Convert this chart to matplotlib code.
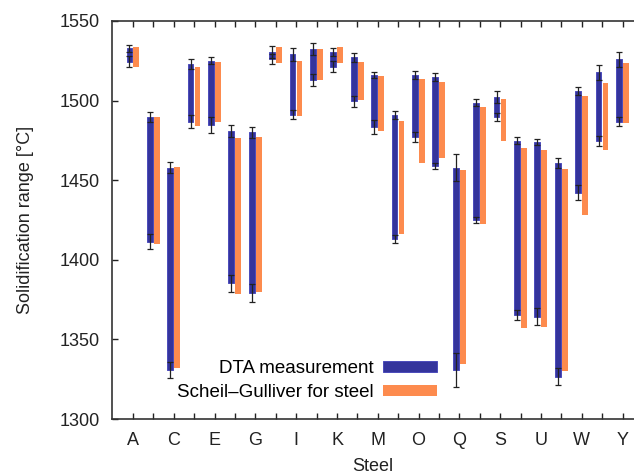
import numpy as np
import matplotlib
matplotlib.use('Agg')
import matplotlib.pyplot as plt

plt.rcParams['font.family'] = ['Liberation Sans', 'DejaVu Sans']
plt.rcParams['font.size'] = 13

steels = list('ABCDEFGHIJKLMNOPQRSTUVWXY')

# DTA measurement: upper/lower ends of the range and their errors
dta_top = [1532.8, 1489.9, 1457.9, 1522.8, 1525.0, 1480.9, 1480.0, 1530.7, 1529.0, 1532.2,
           1530.7, 1527.2, 1516.1, 1491.0, 1516.1, 1515.0, 1457.9, 1498.7, 1502.5, 1474.8,
           1474.2, 1461.0, 1506.0, 1517.8, 1525.9]
dta_top_err = [2.2, 3.1, 3.3, 3.2, 2.2, 3.6, 3.2, 3.8, 4.3, 3.8, 2.6, 2.9, 1.7, 2.5, 2.7,
               2.6, 8.3, 2.3, 3.7, 2.1, 1.9, 3.1, 2.7, 4.6, 4.8]
dta_bot = [1524.4, 1411.4, 1330.8, 1486.7, 1484.7, 1385.2, 1379.4, 1525.9, 1491.0, 1512.9,
           1521.3, 1499.7, 1483.2, 1412.9, 1477.3, 1458.9, 1330.8, 1425.0, 1489.9, 1365.3,
           1364.3, 1326.6, 1442.2, 1474.6, 1486.7]
dta_bot_err = [3.4, 4.8, 4.8, 4.1, 4.9, 5.2, 5.7, 3.1, 2.8, 3.7, 3.5, 3.5, 4.4, 2.6, 3.1,
               2.1, 10.5, 1.7, 2.5, 3.1, 5.3, 5.2, 4.6, 3.1, 2.7]

# Scheil-Gulliver calculation
scheil_top = [1533.9, 1490.0, 1458.5, 1521.3, 1524.0, 1476.3, 1477.3, 1533.9, 1525.0, 1532.2,
              1533.9, 1524.0, 1515.5, 1487.4, 1513.4, 1511.9, 1456.4, 1495.8, 1500.8, 1470.4,
              1469.0, 1457.0, 1502.9, 1511.3, 1523.8]
scheil_bot = [1520.9, 1409.9, 1331.8, 1484.0, 1486.7, 1378.3, 1380.0, 1523.8, 1490.3, 1512.9,
              1523.8, 1500.4, 1481.1, 1416.2, 1461.0, 1463.8, 1334.3, 1422.5, 1474.8, 1357.4,
              1358.0, 1330.2, 1428.1, 1469.0, 1485.7]

x = np.arange(len(steels))
dta_top = np.array(dta_top)
dta_bot = np.array(dta_bot)
scheil_top = np.array(scheil_top)
scheil_bot = np.array(scheil_bot)

fig = plt.figure(figsize=(6.34, 4.74), dpi=100)
ax = fig.add_axes([0.1767, 0.116, 0.8233, 0.8397])

blue = '#34349c'
orange = '#fd8b4e'

b1 = ax.bar(x - 0.18, dta_top - dta_bot, bottom=dta_bot, width=0.28, color=blue,
            edgecolor='#4b4bbb', linewidth=0.7, label='DTA measurement', zorder=2)
b2 = ax.bar(x + 0.16, scheil_top - scheil_bot, bottom=scheil_bot, width=0.28, color=orange,
            linewidth=0, label='Scheil\u2013Gulliver for steel', zorder=2)

ax.errorbar(x - 0.18, dta_top, yerr=dta_top_err, fmt='none', ecolor='#222222',
            elinewidth=0.9, capsize=2.5, capthick=0.9, zorder=3)
ax.errorbar(x - 0.18, dta_bot, yerr=dta_bot_err, fmt='none', ecolor='#222222',
            elinewidth=0.9, capsize=2.5, capthick=0.9, zorder=3)

ax.set_xlim(-1.03, 24.56)
ax.set_ylim(1300, 1550)
ax.set_xticks(x)
ax.set_xticklabels([s if i % 2 == 0 else '' for i, s in enumerate(steels)])
ax.set_yticks(np.arange(1300, 1551, 50))
ax.tick_params(direction='in', top=True, right=False, length=4, width=1,
               labelsize=13, colors='#222222')
ax.tick_params(axis='y', pad=8.5)
ax.tick_params(axis='x', pad=9)
for side in ['left', 'top', 'bottom']:
    ax.spines[side].set_linewidth(1.2)
    ax.spines[side].set_color('#333333')
ax.spines['right'].set_visible(False)

ax.set_xlabel('Steel', fontsize=13, color='#222222', labelpad=7)
ax.set_ylabel('Solidification range [\u00b0C]', fontsize=13, color='#222222', labelpad=19)

ax.legend(handles=[b1, b2], loc='lower right', bbox_to_anchor=(0.64, 0.022),
          frameon=False, markerfirst=False, handlelength=2.85, handleheight=0.5,
          labelspacing=0.35, handletextpad=0.5, borderpad=0, fontsize=13.5)

plt.savefig('out.png', dpi=100)
